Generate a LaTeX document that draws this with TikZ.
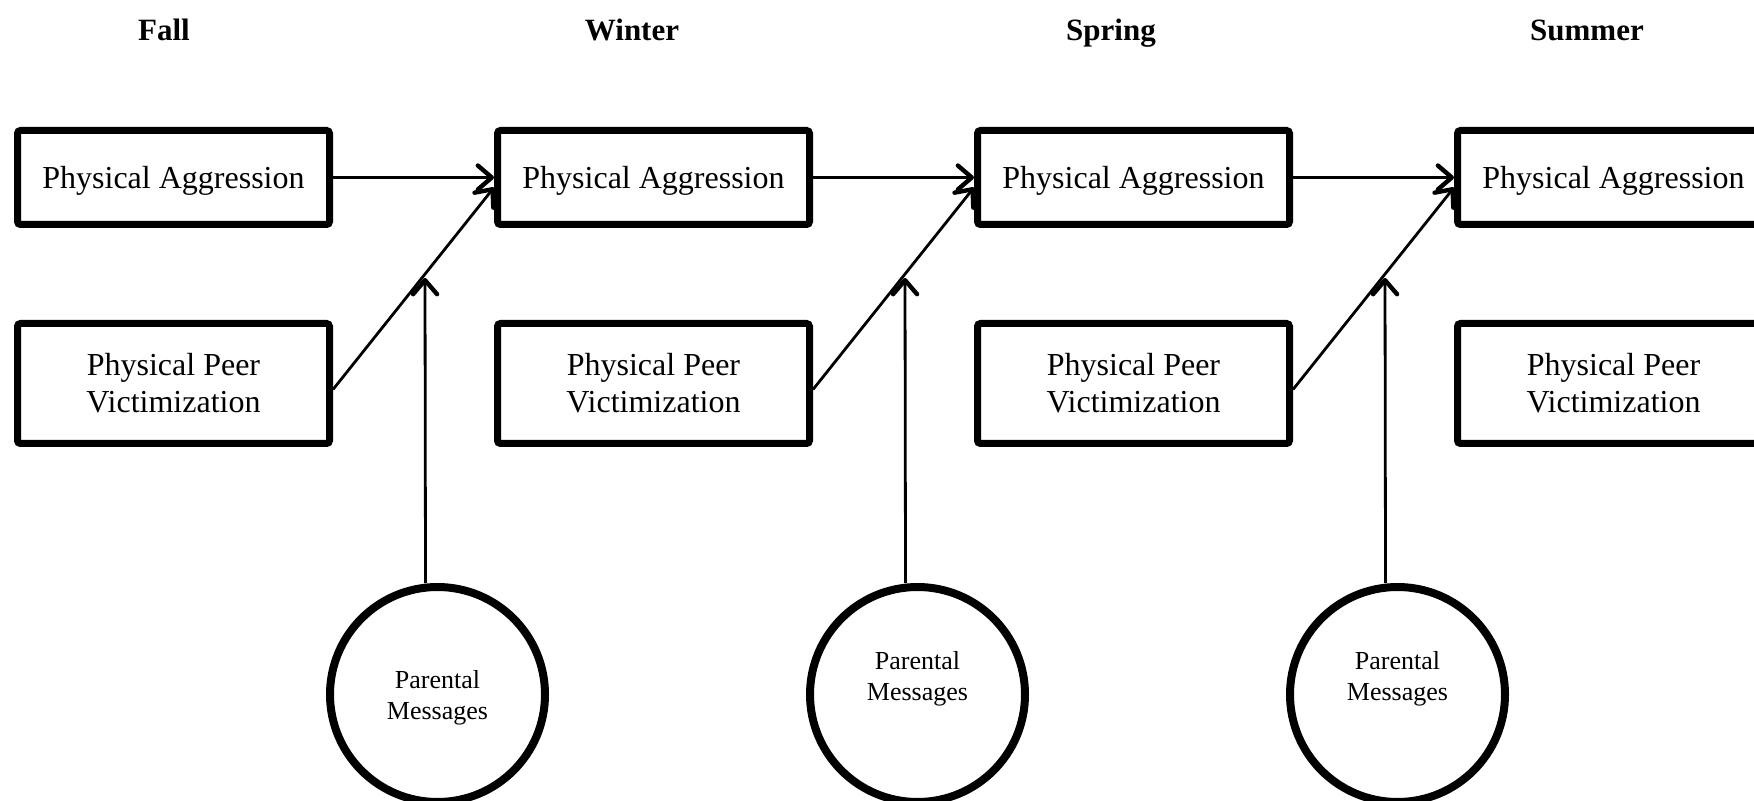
\documentclass[tikz,border=0pt]{standalone}
\usepackage{fontspec}
\setmainfont{Liberation Serif}
\usetikzlibrary{arrows.meta}
\begin{document}
\begin{tikzpicture}[x=0.5pt,y=-0.5pt,
  pabox/.style={draw,line width=3.5pt,rounded corners=1.5pt,minimum width=156pt,minimum height=47pt,inner sep=0pt,align=center,font=\fontsize{16pt}{18.5pt}\selectfont},
  pvbox/.style={pabox,minimum height=60pt},
  circ/.style={draw,circle,line width=4pt,minimum size=107.5pt,inner sep=0pt},
  ctext/.style={align=center,inner sep=0pt,font=\fontsize{13pt}{15.5pt}\selectfont},
  head/.style={font=\fontsize{15.5pt}{18pt}\selectfont\bfseries,inner sep=0pt,anchor=base},
  conn/.style={line width=1.4pt,-{Straight Barb[length=7pt,width=12pt,line width=2.2pt,round]}}
]
\useasboundingbox (0,0) rectangle (1754,801);
% headers
\node[head] (h1) at (164,41) {Fall};
\node[head] (h2) at (632,41) {Winter};
\node[head] (h3) at (1111,41) {Spring};
\node[head] (h4) at (1587,41) {Summer};
% boxes
\foreach \i/\x in {1/173.5,2/653.5,3/1133.5,4/1613.5}{
  \node[pabox,text height=11.5pt,text depth=0pt] (a\i) at (\x,177.5) {Physical Aggression};
  \node[pvbox] (p\i) at (\x,383.5) {Physical Peer\\Victimization};
}
% circles
\foreach \i/\x in {1/437.5,2/917.5,3/1397.5}{
  \node[circ] (c\i) at (\x,694.5) {};
}
\node[ctext] (t1) at ([yshift=-1.5pt]c1.center) {Parental\\Messages};
\node[ctext] (t2) at ([yshift=8pt]c2.center) {Parental\\Messages};
\node[ctext] (t3) at ([yshift=8pt]c3.center) {Parental\\Messages};
% moderation points
\coordinate (m1) at (425,278);
\coordinate (m2) at (905,278);
\coordinate (m3) at (1385,278);
% connectors
\foreach \i/\j in {1/2,2/3,3/4}{
  \draw[conn] (a\i.east) -- (a\j.west);
  \draw[conn] ([yshift=-3pt]p\i.east) -- ([yshift=-5pt]a\j.west);
}
\foreach \i in {1,2,3}{
  \draw[conn] ([xshift=-6pt]c\i.north) -- (m\i);
}
\end{tikzpicture}
\end{document}
